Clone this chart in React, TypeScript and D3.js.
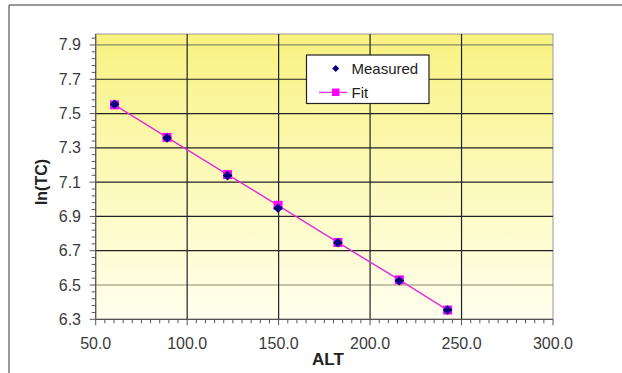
import React from "react";
import * as d3 from "d3";

const measuredAlt = [60.3, 89.0, 122.1, 149.7, 182.4, 216.0, 242.4];
const measuredLnTC = [7.554, 7.358, 7.138, 6.948, 6.747, 6.525, 6.354];
const fitAlt = [60.3, 89.0, 122.1, 149.7, 182.4, 216.0, 242.4];
const fitLnTC = [7.551, 7.361, 7.144, 6.965, 6.748, 6.53, 6.354];
const xTicks = [50, 100, 150, 200, 250, 300];
const yTicks = [6.3, 6.5, 6.7, 6.9, 7.1, 7.3, 7.5, 7.7, 7.9];

export default function App() {
  const W = 622, H = 373;
  const x = d3.scaleLinear().domain([50, 300]).range([95.7, 553]);
  const y = d3.scaleLinear().domain([6.3, 7.964]).range([319.3, 34]);
  const xMinor = d3.range(50, 300.001, 5);
  const yMinor = d3.range(0, 42).map((i) => 6.3 + i * 0.04).filter((v) => v <= 7.964);
  const fitPts = fitAlt.map((a, i) => [x(a), y(fitLnTC[i])] as [number, number]);
  const line = d3.line();
  const font = "Liberation Sans, Arial, sans-serif";
  const diamond = (cx: number, cy: number, r: number) =>
    `M${cx},${cy - r}L${cx + r},${cy}L${cx},${cy + r}L${cx - r},${cy}Z`;
  return (
    <svg width={W} height={H} style={{ position: "absolute", left: 0, top: 0 }}>
      <defs>
        <linearGradient id="bg" x1="0" y1="0" x2="0" y2="1">
          <stop offset="0" stopColor="#F8F280" />
          <stop offset="0.45" stopColor="#FCF9B4" />
          <stop offset="1" stopColor="#FFFFEE" />
        </linearGradient>
      </defs>
      <rect x={0} y={0} width={W} height={H} fill="#fff" />
      <line x1={9} y1={5} x2={W} y2={5} stroke="#777" strokeWidth={1.5} />
      <line x1={9} y1={5} x2={9} y2={H} stroke="#777" strokeWidth={1.5} />
      <rect x={x(50)} y={y(7.964)} width={x(300) - x(50)} height={y(6.3) - y(7.964)} fill="url(#bg)" stroke="#999" strokeWidth={1} />
      {yTicks.slice(1).map((t) => (
        <line key={"gy" + t} x1={x(50)} x2={x(300)} y1={y(t)} y2={y(t)}
          stroke={t === 6.5 || t === 7.9 ? "#8a8a70" : "#222"} strokeWidth={1.2} />
      ))}
      {xTicks.slice(1, -1).map((t) => (
        <line key={"gx" + t} x1={x(t)} x2={x(t)} y1={y(7.964)} y2={y(6.3)} stroke="#222" strokeWidth={1.2} />
      ))}
      <line x1={x(50)} x2={x(50)} y1={y(7.964)} y2={y(6.3)} stroke="#555" strokeWidth={1.2} />
      <line x1={x(50)} x2={x(300)} y1={y(6.3)} y2={y(6.3)} stroke="#555" strokeWidth={1.2} />
      {yMinor.map((t, i) => (
        <line key={"ym" + i} x1={x(50) - (i % 5 === 0 ? 6 : 4)} x2={x(50)} y1={y(t)} y2={y(t)} stroke="#555" strokeWidth={1} />
      ))}
      {xMinor.map((t, i) => (
        <line key={"xm" + i} x1={x(t)} x2={x(t)} y1={y(6.3)} y2={y(6.3) + (i % 10 === 0 ? 6 : 4)} stroke="#555" strokeWidth={1} />
      ))}
      {yTicks.map((t) => (
        <text key={"yl" + t} x={81} y={y(t) + 5.5} textAnchor="end" fontFamily={font} fontSize={16} fill="#3a3a3a">
          {t.toFixed(1)}
        </text>
      ))}
      {xTicks.map((t) => (
        <text key={"xl" + t} x={x(t)} y={349} textAnchor="middle" fontFamily={font} fontSize={16} fill="#3a3a3a">
          {t.toFixed(1)}
        </text>
      ))}
      <text x={328} y={365} textAnchor="middle" fontFamily={font} fontSize={17} fontWeight="bold" fill="#222">ALT</text>
      <text transform={`translate(47,182) rotate(-90)`} textAnchor="middle" fontFamily={font} fontSize={16} fontWeight="bold" fill="#222">ln(TC)</text>
      <path d={line(fitPts) || ""} fill="none" stroke="#E030D8" strokeWidth={1.5} />
      {fitPts.map(([px, py], i) => (
        <rect key={"fs" + i} x={px - 4.5} y={py - 4.5} width={9} height={9} fill="#FF00FF" />
      ))}
      {measuredAlt.map((a, i) => (
        <path key={"md" + i} d={diamond(x(a), y(measuredLnTC[i]), 4.8)} fill="#000080" />
      ))}
      <rect x={306.5} y={55} width={122.5} height={48.5} fill="#fff" stroke="#222" strokeWidth={1.2} />
      <path d={diamond(335.7, 68.5, 3.5)} fill="#000080" />
      <text x={351.5} y={74} fontFamily={font} fontSize={15} fill="#222">Measured</text>
      <line x1={319} x2={347} y1={92.3} y2={92.3} stroke="#E030D8" strokeWidth={1.2} />
      <rect x={332} y={88.5} width={7.5} height={7.5} fill="#FF00FF" />
      <text x={351.5} y={98} fontFamily={font} fontSize={15} fill="#222">Fit</text>
    </svg>
  );
}
